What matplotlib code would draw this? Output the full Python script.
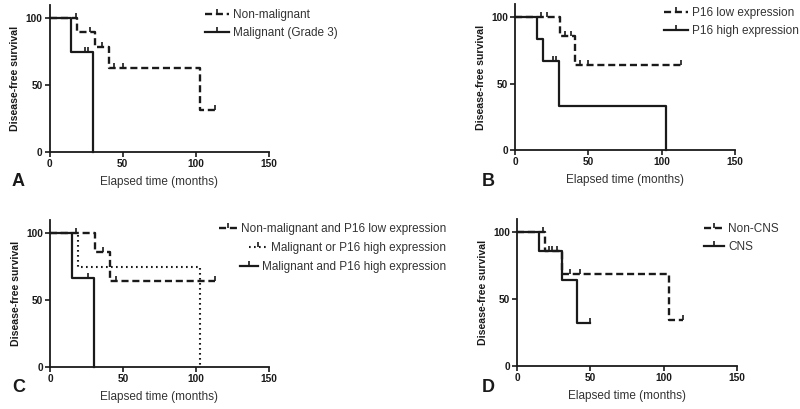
import numpy as np
import matplotlib
matplotlib.use("Agg")
import matplotlib.pyplot as plt
from matplotlib.lines import Line2D
from matplotlib.legend import Legend

plt.rcParams['font.family'] = ['Liberation Sans', 'DejaVu Sans']

# ---------------- data ----------------
# Panel A
a_nonmal_t = [0, 19, 31, 41, 103, 113]
a_nonmal_s = [100, 90, 78.75, 63, 31.5, 31.5]
a_nonmal_c = [18, 28, 36, 44, 50, 113]
a_mal_t = [0, 15, 30]
a_mal_s = [100, 75, 0]
a_mal_c = [24, 26]
# Panel B
b_low_t = [0, 31, 41, 113]
b_low_s = [100, 85.7, 64.3, 64.3]
b_low_c = [18, 22, 34, 38, 44, 50, 113]
b_high_t = [0, 15, 19, 30, 103]
b_high_s = [100, 83.3, 66.7, 33.3, 0]
b_high_c = [26, 28]
# Panel C
c_nm_low_t = [0, 31, 41, 113]
c_nm_low_s = [100, 85.7, 64.3, 64.3]
c_nm_low_c = [18, 36, 45, 113]
c_or_t = [0, 19, 103]
c_or_s = [100, 75, 0]
c_or_c = []
c_and_t = [0, 15, 30]
c_and_s = [100, 66.7, 0]
c_and_c = [26]
# Panel D
d_noncns_t = [0, 19, 31, 103.5, 113]
d_noncns_s = [100, 85.7, 68.6, 34.3, 34.3]
d_noncns_c = [18, 22, 27, 36, 43, 113]
d_cns_t = [0, 15, 31, 41, 50]
d_cns_s = [100, 85.7, 64.3, 32.1, 32.1]
d_cns_c = [24, 50]

x_ticks = [0, 50, 100, 150]
y_ticks = [0, 50, 100]
panel_letters = ['A', 'B', 'C', 'D']
xlabel = 'Elapsed time (months)'
ylabel = 'Disease-free survival'

# ---------------- style ----------------
W, H = 800, 409
fig = plt.figure(figsize=(W / 100, H / 100), dpi=100)
LC = '#1a1a1a'
TC = '#333333'
STY = {
    'dash': dict(linestyle=(0, (3.0, 1.6)), linewidth=1.7),
    'dot': dict(linestyle=(0, (0.8, 1.6)), linewidth=1.5),
    'solid': dict(linestyle='-', linewidth=1.6),
}


def px_axes(l, r, b, t):
    return fig.add_axes([l / W, 1 - b / H, (r - l) / W, (b - t) / H])


def km(ax, t, s, c, sty):
    ax.step(t, s, where='post', color=LC, clip_on=False, **STY[sty])
    if len(c):
        idx = np.searchsorted(t, c, side='right') - 1
        cy = np.asarray(s)[idx]
        ax.plot(c, cy, linestyle='none', marker=2, markersize=3.5,
                markeredgewidth=1.2, color=LC, clip_on=False)


def style_axes(ax):
    ax.set_xlim(0, 150)
    ax.set_ylim(0, 110)
    ax.set_xticks(x_ticks)
    ax.set_yticks(y_ticks)
    for side in ['top', 'right']:
        ax.spines[side].set_visible(False)
    for side in ['left', 'bottom']:
        ax.spines[side].set_linewidth(1.3)
        ax.spines[side].set_color(LC)
    ax.tick_params(direction='out', length=3.5, width=1.2, labelsize=7.3,
                   pad=1.5, colors=LC)
    for lab in ax.get_xticklabels() + ax.get_yticklabels():
        lab.set_fontweight('bold')
    ax.set_xlabel(xlabel, fontsize=8.5, labelpad=5, color=TC)
    ax.set_ylabel(ylabel, fontsize=7.6, fontweight='bold', labelpad=4, color=LC)
    ax.patch.set_alpha(0)


def handle(sty):
    return Line2D([], [], color=LC, marker=2, markersize=3.5,
                  markeredgewidth=1.2, **STY[sty])


def legend_left(ax, items, x_px, top_px, hl):
    leg = ax.legend([handle(s) for s, _ in items], [l for _, l in items],
                    loc='upper left', bbox_to_anchor=(x_px / W, 1 - top_px / H),
                    bbox_transform=fig.transFigure, frameon=False,
                    fontsize=8.5, handlelength=hl, handletextpad=0.35,
                    labelspacing=0.5, borderpad=0, borderaxespad=0,
                    numpoints=1)
    for t in leg.get_texts():
        t.set_color(TC)
    return leg


# axes positions (pixels: left, right, bottom, top)
axA = px_axes(49.5, 269, 152, 5)
axB = px_axes(515, 735, 150, 4)
axC = px_axes(50, 269, 367, 220)
axD = px_axes(517, 737, 366, 219)

km(axA, a_nonmal_t, a_nonmal_s, a_nonmal_c, 'dash')
km(axA, a_mal_t, a_mal_s, a_mal_c, 'solid')
km(axB, b_low_t, b_low_s, b_low_c, 'dash')
km(axB, b_high_t, b_high_s, b_high_c, 'solid')
km(axC, c_nm_low_t, c_nm_low_s, c_nm_low_c, 'dash')
km(axC, c_or_t, c_or_s, c_or_c, 'dot')
km(axC, c_and_t, c_and_s, c_and_c, 'solid')
km(axD, d_noncns_t, d_noncns_s, d_noncns_c, 'dash')
km(axD, d_cns_t, d_cns_s, d_cns_c, 'solid')

for ax in [axA, axB, axC, axD]:
    style_axes(ax)

legend_left(axA, [('dash', 'Non-malignant'), ('solid', 'Malignant (Grade 3)')],
            205, 9, 2.0)
legend_left(axB, [('dash', 'P16 low expression'), ('solid', 'P16 high expression')],
            664, 7, 2.0)
legend_left(axD, [('dash', 'Non-CNS'), ('solid', 'CNS')], 704, 223, 1.7)

# Panel C legend: right aligned rows
c_items = [('dash', 'Non-malignant and P16 low expression'),
           ('dot', 'Malignant or P16 high expression'),
           ('solid', 'Malignant and P16 high expression')]
for i, (s, l) in enumerate(c_items):
    leg = Legend(axC, [handle(s)], [l], loc='upper right',
                 bbox_to_anchor=(446 / W, 1 - (223 + i * 19) / H),
                 bbox_transform=fig.transFigure, frameon=False,
                 fontsize=8.5, handlelength=1.5, handletextpad=0.35,
                 borderpad=0, borderaxespad=0, numpoints=1)
    for t in leg.get_texts():
        t.set_color(TC)
    axC.add_artist(leg)

letter_pos = [(12, 182), (482, 182), (12, 387), (482, 387)]
for let, (x, y) in zip(panel_letters, letter_pos):
    fig.text(x / W, 1 - y / H, let, fontsize=13, fontweight='bold',
             va='center', ha='left', color=LC)

fig.savefig('out.png', dpi=100, facecolor='white')
